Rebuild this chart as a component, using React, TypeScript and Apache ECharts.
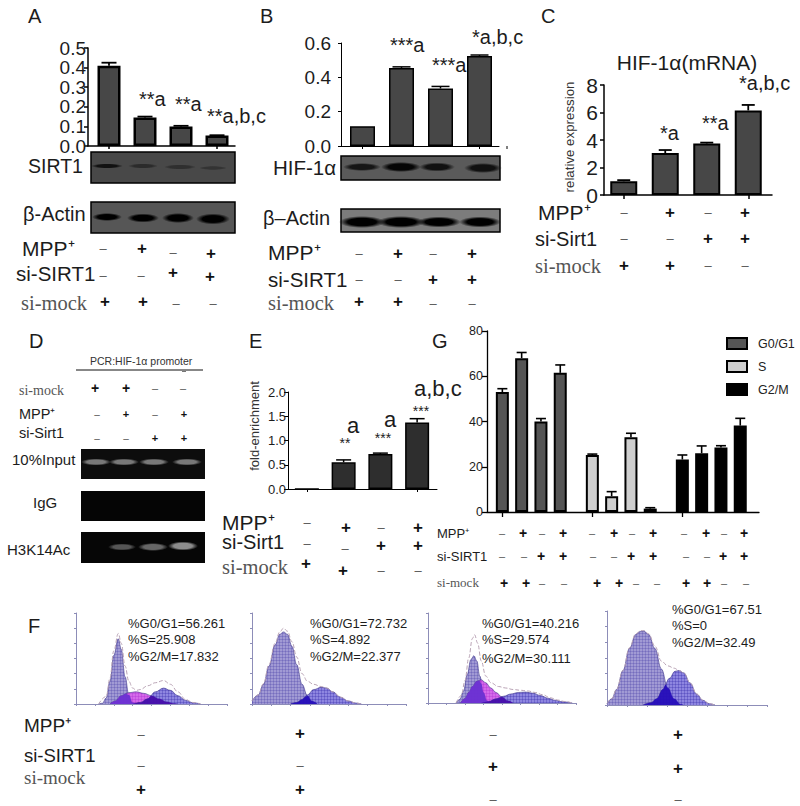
import React, { useEffect, useRef } from "react";
import * as echarts from "echarts";

const SANS = '"Liberation Sans", Arial, sans-serif';
const SERIF = '"Liberation Serif", "DejaVu Serif", serif';
const INK = "#1c1c1c";

const conditions = ["si-mock", "MPP+ si-mock", "si-SIRT1", "MPP+ si-SIRT1"];

// Panel A
const aValues = [0.41, 0.145, 0.1, 0.053];
const aErrors = [0.015, 0.005, 0.003, 0.002];
// Panel B
const bValues = [0.115, 0.455, 0.335, 0.525];
const bErrors = [0, 0.006, 0.012, 0.005];
// Panel C
const cValues = [1.0, 3.05, 3.75, 6.15];
const cErrors = [0.08, 0.22, 0.06, 0.4];
// Panel E
const eValues = [0, 0.55, 0.72, 1.37];
const eErrors = [0, 0.05, 0.02, 0.08];
// Panel G
const gG0G1 = [53, 68, 40, 61.5];
const gG0G1Err = [1.5, 2.5, 1.3, 3.5];
const gS = [25.2, 7, 33, 1.5];
const gSErr = [0.4, 2, 1.8, 0.4];
const gG2M = [23.2, 26, 28.5, 38.2];
const gG2MErr = [2, 3.2, 0.8, 3.2];

// Panel F: histogram curves, [channel, count]
const f1G0: number[][] = [[30,0],[35,0.5],[40,4],[45,15],[50,32],[56,43],[60,36],[65,18],[70,6],[75,1],[80,0]];
const f1S: number[][] = [[45,0],[52,2],[60,5.5],[70,7.5],[80,8],[90,7],[100,5.5],[110,3.5],[120,1.5],[130,0.3],[135,0]];
const f1G2: number[][] = [[75,0],[85,1],[95,3.5],[105,8],[116,10.5],[125,9],[135,5.5],[145,2.5],[155,0.8],[165,0]];
const f1Env: number[][] = [[30,0],[40,5],[45,17],[50,35],[56,46.5],[60,40],[65,25],[70,15],[75,10.5],[80,9],[85,9.5],[95,12],[105,14],[116,15.5],[125,13],[135,8],[145,3],[155,1],[165,0]];
const f1G0S: number[][] = [[45,0],[52,2],[60,5.5],[66,6.8],[70,6],[75,1],[80,0]];
const f1SG2: number[][] = [[75,0],[85,1],[95,3.5],[100,5.5],[110,3.5],[120,1.5],[130,0.3],[135,0]];

const f2G0: number[][] = [[0,2],[8,6],[15,13],[22,25],[30,39],[36,46],[41,47.5],[46,46],[52,38],[58,26],[65,13],[72,5.5],[78,2],[85,0]];
const f2G2: number[][] = [[50,0],[58,1],[65,3],[72,6],[80,9.5],[90,11],[97,10.5],[105,8],[115,4.5],[125,2],[135,0.6],[142,0]];
const f2Env: number[][] = [[0,2],[8,6],[15,13.5],[22,26],[30,40],[36,47.5],[41,50],[46,48],[52,41],[58,31],[65,20],[72,15],[80,13],[90,11.5],[97,10.5],[105,8],[115,4.5],[125,2],[135,0.6],[142,0]];
const f2G0G2: number[][] = [[50,0],[58,1],[65,3],[70,5],[72,5.5],[78,2],[85,0]];

const f3G0: number[][] = [[38,0],[43,2.5],[48,8],[53,19],[58,29],[62,31.5],[66,28],[70,18],[75,7],[80,1.5],[85,0]];
const f3S: number[][] = [[44,0],[50,3],[55,7],[60,11],[66,14.5],[72,15.5],[78,13.5],[85,10],[92,7],[100,4],[108,1.5],[115,0]];
const f3G2: number[][] = [[72,0],[82,1],[92,2.8],[102,4.5],[112,6],[122,7],[132,7.3],[142,6.5],[152,5],[162,3.2],[172,1.8],[182,0.8],[195,0]];
const f3Env: number[][] = [[38,0],[45,5],[50,15],[55,30],[60,43],[63,45.5],[67,40],[72,28],[78,18],[85,13.5],[95,11],[105,10],[115,9],[125,8.5],[135,8],[145,7],[155,5.5],[165,3.5],[175,2],[185,1],[195,0]];
const f3G0S: number[][] = [[44,0],[50,3],[55,7],[60,11],[66,14.5],[69,15],[72,13],[75,7],[80,1.5],[85,0]];
const f3SG2: number[][] = [[72,0],[82,1],[92,2.8],[100,4],[108,1.5],[115,0]];

const f4G0: number[][] = [[0,1],[6,4],[12,10],[20,22],[28,36],[36,45],[42,47],[46,47.2],[52,45],[60,36],[68,23],[76,11],[84,4],[92,0.5],[96,0]];
const f4G2: number[][] = [[45,0],[55,1.5],[62,4],[70,10],[78,17],[85,21.5],[90,22],[96,20.5],[104,14],[112,7],[120,3],[128,0.8],[135,0]];
const f4Env: number[][] = [[0,1],[6,4],[12,10],[20,22],[28,36.5],[36,45.5],[42,47.5],[46,47.5],[52,45.5],[60,37.5],[68,28],[76,25],[84,23.5],[90,22],[96,20.5],[104,14],[112,7],[120,3],[128,0.8],[135,0]];
const f4G0G2: number[][] = [[45,0],[55,1.5],[62,4],[70,10],[73,13],[76,11],[84,4],[92,0.5],[96,0]];

const fStats = [
  ["%G0/G1=56.261", "%S=25.908", "%G2/M=17.832"],
  ["%G0/G1=72.732", "%S=4.892", "%G2/M=22.377"],
  ["%G0/G1=40.216", "%S=29.574", "%G2/M=30.111"],
  ["%G0/G1=67.51", "%S=0", "%G2/M=32.49"],
];

const P = "+";
const M = "–";
const mppRow = [M, P, M, P];
const sirtRow = [M, M, P, P];
const mockRow = [P, P, M, M];

function pattern(base: string, dot: string, step: number) {
  const c = document.createElement("canvas");
  c.width = step;
  c.height = step;
  const g = c.getContext("2d")!;
  g.fillStyle = base;
  g.fillRect(0, 0, step, step);
  g.fillStyle = dot;
  g.fillRect(0, 0, 1, step);
  g.fillRect(0, 0, step, 1);
  return { image: c, repeat: "repeat" } as any;
}

function buildOption() {
  const grid: any[] = [];
  const xAxis: any[] = [];
  const yAxis: any[] = [];
  const series: any[] = [];
  const graphic: any[] = [];

  const text = (x: number, y: number, s: string, size: number, o: any = {}) =>
    graphic.push({
      type: "text",
      x,
      y,
      rotation: o.rotation || 0,
      z: 50,
      style: {
        text: s,
        fontFamily: o.font || SANS,
        fontSize: size,
        fontWeight: o.weight || "normal",
        fill: o.color || INK,
        align: o.align || "left",
        verticalAlign: "middle",
      },
    });

  const signs = (row: string[], xs: number[], ys: number | number[], size = 17, minus = 13) =>
    row.forEach((s, i) => {
      const y = Array.isArray(ys) ? ys[i] : ys;
      text(xs[i], y, s, s === P ? size : minus, {
        align: "center",
        weight: s === P ? "bold" : "normal",
        color: s === P ? "#111" : "#555",
      });
    });

  const blot = (x: number, y: number, w: number, h: number, bg: any, border: number) =>
    graphic.push({
      type: "rect",
      z: 10,
      shape: { x, y, width: w, height: h },
      style: { fill: bg, stroke: "#000", lineWidth: border },
    });

  const band = (cx: number, cy: number, rx: number, ry: number, color: string, edge: string) =>
    graphic.push({
      type: "ellipse",
      z: 11,
      shape: { cx, cy, rx, ry },
      style: {
        fill: new echarts.graphic.RadialGradient(0.5, 0.5, 0.5, [
          { offset: 0, color },
          { offset: 0.62, color },
          { offset: 1, color: edge },
        ]),
      },
    });

  const frame = (c: any) => {
    const i = grid.length;
    grid.push({ left: c.left, top: c.top, width: c.width, height: c.height });
    xAxis.push({
      gridIndex: i,
      type: "category",
      data: [],
      axisLine: { show: true, lineStyle: { color: "#000", width: c.line } },
      axisTick: { show: false },
      axisLabel: { show: false },
      splitLine: { show: false },
    });
    yAxis.push({
      gridIndex: i,
      type: "value",
      min: c.min,
      max: c.max,
      interval: c.interval,
      axisLine: { show: true, lineStyle: { color: "#000", width: c.line } },
      axisTick: { show: true, length: c.tick, lineStyle: { color: "#000", width: c.line } },
      axisLabel: {
        fontFamily: SANS,
        fontSize: c.font,
        color: INK,
        margin: c.margin,
        formatter: c.format,
        showMinLabel: true,
        showMaxLabel: true,
        hideOverlap: false,
      },
      splitLine: { show: false },
    });
    series.push({ type: "bar", xAxisIndex: i, yAxisIndex: i, data: [], silent: true });
  };

  const bars = (c: any) => {
    const i = grid.length;
    grid.push({ left: c.left, top: c.top, width: c.width, height: c.height });
    xAxis.push({
      gridIndex: i,
      type: "category",
      data: conditions,
      axisLine: { show: false },
      axisTick: { show: true, alignWithLabel: true, length: c.tick, lineStyle: { color: "#000", width: c.line } },
      axisLabel: { show: false },
    });
    yAxis.push({ gridIndex: i, type: "value", min: c.min, max: c.max, show: false, splitLine: { show: false } });
    series.push({
      name: c.name,
      type: "bar",
      xAxisIndex: i,
      yAxisIndex: i,
      data: c.values,
      barWidth: c.barWidth,
      itemStyle: { color: c.color, borderColor: "#000", borderWidth: c.border },
      z: 3,
    });
    series.push({
      type: "custom",
      xAxisIndex: i,
      yAxisIndex: i,
      silent: true,
      z: 4,
      encode: { x: 0, y: 1 },
      data: c.values.map((v: number, k: number) => [k, v, v + c.errors[k]]),
      renderItem: (_: any, api: any) => {
        const lo = api.coord([api.value(0), api.value(1)]);
        const hi = api.coord([api.value(0), api.value(2)]);
        if (Math.abs(lo[1] - hi[1]) < 0.01) return { type: "group", children: [] };
        const st = { stroke: "#000", lineWidth: c.errWidth };
        return {
          type: "group",
          children: [
            { type: "line", shape: { x1: lo[0], y1: lo[1], x2: hi[0], y2: hi[1] }, style: st },
            { type: "line", shape: { x1: hi[0] - c.cap / 2, y1: hi[1], x2: hi[0] + c.cap / 2, y2: hi[1] }, style: st },
          ],
        };
      },
    });
  };

  const one = (v: number) => v.toFixed(1);
  const mockStyle = { font: SERIF, color: "#555" };

  // ---------- A
  frame({ left: 88, top: 48, width: 147, height: 98, min: 0, max: 0.5, interval: 0.1, line: 1.5, tick: 4, font: 19, margin: 2, format: one });
  bars({ left: 91, top: 48, width: 144, height: 98, min: 0, max: 0.5, values: aValues, errors: aErrors, color: "#474747", barWidth: 23, border: 2.5, tick: 3, line: 1.5, errWidth: 1.8, cap: 15 });
  text(28, 16, "A", 20);
  text(139, 99, "**a", 20);
  text(175, 104, "**a", 20);
  text(207, 116, "**a,b,c", 20);
  text(28, 166, "SIRT1", 19.5);
  text(23, 214, "β-Actin", 20);
  blot(91, 152, 144, 31, "#484848", 1.5);
  blot(91, 202, 144, 31, "#565656", 1.5);
  band(107, 166, 16, 2.5, "#111", "rgba(20,20,20,0)");
  band(143, 166, 15, 2.5, "#2b2b2b", "rgba(40,40,40,0)");
  band(180, 167, 16, 2.5, "#2f2f2f", "rgba(40,40,40,0)");
  band(213, 168, 14, 2, "#333", "rgba(40,40,40,0)");
  band(107, 217, 15, 4, "#000", "rgba(0,0,0,0)");
  band(143, 218, 16, 4.5, "#000", "rgba(0,0,0,0)");
  band(178, 218, 16, 5, "#000", "rgba(0,0,0,0)");
  band(213, 219, 17, 5.5, "#000", "rgba(0,0,0,0)");
  text(22, 248, "MPP⁺", 21);
  text(16, 273, "si-SIRT1", 20.5);
  text(21, 303, "si-mock", 20.5, mockStyle);
  signs(mppRow, [103, 142, 173, 211], [248, 248, 252, 253]);
  signs(sirtRow, [103, 141, 173, 210], [275, 275, 272, 276]);
  signs(mockRow, [105, 143, 176, 213], [301, 301, 303, 303]);

  // ---------- B
  frame({ left: 341, top: 43, width: 158, height: 103, min: 0, max: 0.6, interval: 0.2, line: 1, tick: 3, font: 19, margin: 10, format: one });
  bars({ left: 343, top: 43, width: 156, height: 103, min: 0, max: 0.6, values: bValues, errors: bErrors, color: "#474747", barWidth: 25, border: 1.5, tick: 3, line: 1, errWidth: 1.5, cap: 18 });
  graphic.push({ type: "line", z: 10, shape: { x1: 507, y1: 146, x2: 507, y2: 149 }, style: { stroke: "#000", lineWidth: 1 } });
  text(260, 16, "B", 20);
  text(390, 45, "***a", 20);
  text(432, 65, "***a", 20);
  text(472, 37, "*a,b,c", 20);
  text(273, 167, "HIF-1α", 20.5);
  text(263, 218, "β–Actin", 20);
  blot(341, 156, 159, 24, "#5a5a5a", 1.5);
  blot(341, 209, 159, 23, "#7c7c7c", 1.5);
  band(362, 167, 19, 4, "#151515", "rgba(20,20,20,0)");
  band(401, 167, 20, 5, "#050505", "rgba(0,0,0,0)");
  band(437, 167, 18, 4.5, "#111", "rgba(20,20,20,0)");
  band(483, 168, 19, 5, "#111", "rgba(20,20,20,0)");
  band(362, 222, 23, 6, "#000", "rgba(0,0,0,0)");
  band(401, 222, 24, 6, "#000", "rgba(0,0,0,0)");
  band(439, 222, 22, 5.5, "#000", "rgba(0,0,0,0)");
  band(480, 222, 21, 5.5, "#000", "rgba(0,0,0,0)");
  text(268, 252, "MPP⁺", 21);
  text(268, 279, "si-SIRT1", 20.5);
  text(268, 303, "si-mock", 20.5, mockStyle);
  const bCols = [359, 398, 433, 472];
  signs(mppRow, bCols, 253);
  signs(sirtRow, bCols, 279);
  signs(mockRow, bCols, [301, 301, 303, 303]);

  // ---------- C
  frame({ left: 604, top: 85, width: 168, height: 110, min: 0, max: 8, interval: 2, line: 1.5, tick: 4, font: 21, margin: 6 });
  bars({ left: 603, top: 85, width: 166, height: 110, min: 0, max: 8, values: cValues, errors: cErrors, color: "#474747", barWidth: 27, border: 2, tick: 4, line: 1.5, errWidth: 1.8, cap: 13 });
  text(541, 16, "C", 20);
  text(687, 62, "HIF-1α(mRNA)", 21, { align: "center" });
  text(569, 137, "relative expression", 13.3, { align: "center", rotation: Math.PI / 2, color: "#333" });
  text(660, 133, "*a", 20);
  text(702, 123, "**a", 20);
  text(739, 83, "*a,b,c", 20);
  text(538, 212, "MPP⁺", 21);
  text(535, 239, "si-Sirt1", 20);
  text(535, 266, "si-mock", 20.5, mockStyle);
  const cCols = [624, 670, 708, 745];
  signs(mppRow, cCols, 212);
  signs(sirtRow, cCols, 238);
  signs(mockRow, cCols, 265);

  // ---------- D
  text(29, 341, "D", 20);
  text(90, 361, "PCR:HIF-1α promoter", 10.5, { color: "#333" });
  graphic.push({ type: "line", z: 10, shape: { x1: 76, y1: 370, x2: 203, y2: 370 }, style: { stroke: "#111", lineWidth: 1 } });
  graphic.push({ type: "line", z: 10, shape: { x1: 182, y1: 371.5, x2: 186, y2: 371.5 }, style: { stroke: "#777", lineWidth: 1 } });
  text(19, 390, "si-mock", 14, mockStyle);
  text(19, 414, "MPP⁺", 14.5);
  text(19, 433, "si-Sirt1", 14.5);
  text(12, 459, "10%Input", 15);
  text(33, 502, "IgG", 15);
  text(7, 549, "H3K14Ac", 15);
  signs(mockRow, [95, 126, 155, 183], 388, 14, 11);
  signs(mppRow, [97, 126, 155, 184], 414, 11, 10);
  signs(sirtRow, [97, 126, 155, 184], 438, 11, 10);
  blot(81, 449, 124, 30, "#0d0d0d", 0);
  blot(81, 491, 124, 30, "#050505", 0);
  blot(81, 532, 124, 31, "#060606", 0);
  [96, 124, 154, 187].forEach((x) => band(x, 462, 15, 3.5, "#787878", "rgba(100,100,100,0)"));
  band(122, 547, 14, 3.5, "#555", "rgba(80,80,80,0)");
  band(153, 547, 15, 4, "#666", "rgba(100,100,100,0)");
  band(183, 546, 15, 4.5, "#8c8c8c", "rgba(130,130,130,0)");

  // ---------- E
  frame({ left: 288, top: 392, width: 149, height: 97, min: 0, max: 2, interval: 0.5, line: 1, tick: 4, font: 13, margin: 2, format: one });
  bars({ left: 288.5, top: 392, width: 147, height: 97, min: 0, max: 2, values: eValues, errors: eErrors, color: "#2e2e2e", barWidth: 24, border: 1.5, tick: 3, line: 1, errWidth: 1.5, cap: 15 });
  text(249, 341, "E", 20);
  text(254, 426, "fold-enrichment", 13, { align: "center", rotation: Math.PI / 2, color: "#333" });
  text(353, 425, "a", 22, { align: "center" });
  text(345, 443, "**", 14, { align: "center" });
  text(390, 419, "a", 22, { align: "center" });
  text(383, 438, "***", 14, { align: "center" });
  text(414, 388, "a,b,c", 22);
  text(421, 411, "***", 14, { align: "center" });
  text(222, 522, "MPP⁺", 21);
  text(222, 542, "si-Sirt1", 20);
  text(222, 567, "si-mock", 20.5, mockStyle);
  signs(mppRow, [307, 346, 381, 418], [522, 527, 527, 527]);
  signs(sirtRow, [307, 345, 381, 418], [543, 548, 545, 545]);
  signs(mockRow, [306, 343, 381, 418], [563, 570, 570, 570]);

  // ---------- G
  frame({ left: 487, top: 331, width: 272, height: 181, min: 0, max: 80, interval: 20, line: 1.3, tick: 5, font: 12.5, margin: 4 });
  const gCommon = { top: 331, width: 77.2, height: 181, min: 0, max: 80, barWidth: 13, border: 2, tick: 5, line: 1.3, errWidth: 1.6, cap: 10 };
  bars({ ...gCommon, left: 492.7, name: "G0/G1", values: gG0G1, errors: gG0G1Err, color: "#555555" });
  bars({ ...gCommon, left: 582.7, name: "S", values: gS, errors: gSErr, color: "#cfcfcf" });
  bars({ ...gCommon, left: 672.7, name: "G2/M", values: gG2M, errors: gG2MErr, color: "#000000" });
  text(432, 341, "G", 20);
  text(437, 533, "MPP⁺", 13);
  text(437, 556, "si-SIRT1", 13);
  text(437, 582, "si-mock", 13, mockStyle);
  signs([...mppRow, ...mppRow, ...mppRow], [502, 523, 542, 563, 592, 614, 632, 653, 684, 706, 724, 744], 533, 14, 11);
  signs([...sirtRow, ...sirtRow, ...sirtRow], [502, 524, 541, 563, 593, 614, 631, 653, 686, 707, 723, 744], 556, 14, 11);
  signs([...mockRow, ...mockRow, ...mockRow], [504, 526, 542, 564, 597, 619, 636, 657, 686, 707, 724, 746], 583, 14, 11);

  // ---------- F
  const g0Fill = pattern("rgba(125,115,195,0.72)", "rgba(70,60,165,0.28)", 3);
  const g2Fill = pattern("rgba(110,100,215,0.78)", "rgba(50,40,170,0.3)", 3);
  const sFill = pattern("rgba(205,80,230,0.85)", "rgba(170,40,205,0.3)", 3);
  const g0g2 = "rgba(38,14,185,0.95)";
  const sg2 = "rgba(70,14,170,0.95)";
  const g0s = "rgba(105,50,210,0.95)";
  const hist = (left: number, top: number, width: number, height: number, curves: any[]) => {
    const i = grid.length;
    grid.push({ left, top, width, height });
    const ax = { show: true, lineStyle: { color: "#8d8db8", width: 1 } };
    xAxis.push({
      gridIndex: i, type: "value", min: 0, max: 200, interval: 25,
      axisLine: ax, axisTick: { show: true, length: 2, lineStyle: { color: "#8d8db8" } },
      axisLabel: { show: false }, splitLine: { show: false },
    });
    yAxis.push({
      gridIndex: i, type: "value", min: 0, max: 60, interval: 10,
      axisLine: ax, axisTick: { show: true, length: 2, lineStyle: { color: "#8d8db8" } },
      axisLabel: { show: false }, splitLine: { show: false },
    });
    curves.forEach((c, k) =>
      series.push({
        type: "line",
        xAxisIndex: i,
        yAxisIndex: i,
        data: c.data,
        smooth: 0.4,
        smoothMonotone: "x",
        showSymbol: false,
        silent: true,
        z: 3 + k,
        lineStyle: c.env
          ? { color: "#b9a3b5", width: 1, type: "dashed" }
          : { color: "#3a3288", width: c.thin ? 0 : 0.6 },
        areaStyle: c.env ? undefined : { color: c.fill, opacity: 1 },
      })
    );
  };
  hist(76, 613, 151, 91, [{ data: f1G0, fill: g0Fill }, { data: f1S, fill: sFill }, { data: f1G2, fill: g2Fill }, { data: f1G0S, fill: g0s, thin: true }, { data: f1SG2, fill: sg2, thin: true }, { data: f1Env, env: true }]);
  hist(252, 613, 154, 91, [{ data: f2G0, fill: g0Fill }, { data: f2G2, fill: g2Fill }, { data: f2G0G2, fill: g0g2, thin: true }, { data: f2Env, env: true }]);
  hist(428, 613, 148, 90, [{ data: f3G0, fill: g0Fill }, { data: f3S, fill: sFill }, { data: f3G2, fill: g2Fill }, { data: f3G0S, fill: g0s, thin: true }, { data: f3SG2, fill: sg2, thin: true }, { data: f3Env, env: true }]);
  hist(607, 611, 160, 94, [{ data: f4G0, fill: g0Fill }, { data: f4G2, fill: g2Fill }, { data: f4G0G2, fill: g0g2, thin: true }, { data: f4Env, env: true }]);

  text(28, 626, "F", 20);
  const statPos: number[][] = [[128, 623, 639, 656], [310, 623, 639, 656], [482, 623, 639, 658], [672, 609, 625, 642]];
  fStats.forEach((rows, k) => rows.forEach((s, j) => text(statPos[k][0], statPos[k][j + 1], s, 13)));
  text(24, 725, "MPP⁺", 19);
  text(24, 755, "si-SIRT1", 18.5);
  text(24, 777, "si-mock", 19, mockStyle);
  const fCols = [141, 300, 493, 678];
  signs(mppRow, fCols, [734, 733, 734, 734]);
  signs(sirtRow, fCols, [765, 765, 766, 768]);
  signs(mockRow, fCols, [789, 789, 799, 799]);

  return {
    animation: false,
    backgroundColor: "#ffffff",
    legend: {
      data: ["G0/G1", "S", "G2/M"],
      orient: "vertical",
      left: 726,
      top: 337,
      padding: 0,
      icon: "rect",
      itemWidth: 20,
      itemHeight: 11,
      itemGap: 10,
      selectedMode: false,
      textStyle: { fontFamily: SANS, fontSize: 12.5, color: "#222", padding: [0, 0, 0, 6] },
    },
    grid,
    xAxis,
    yAxis,
    series,
    graphic: { elements: graphic },
  };
}

export default function App() {
  const ref = useRef<HTMLDivElement>(null);
  useEffect(() => {
    const chart = echarts.init(ref.current!, undefined, { renderer: "svg" });
    chart.setOption(buildOption() as any);
    return () => chart.dispose();
  }, []);
  return <div ref={ref} style={{ position: "absolute", left: 0, top: 0, width: 800, height: 806, background: "#fff" }} />;
}
